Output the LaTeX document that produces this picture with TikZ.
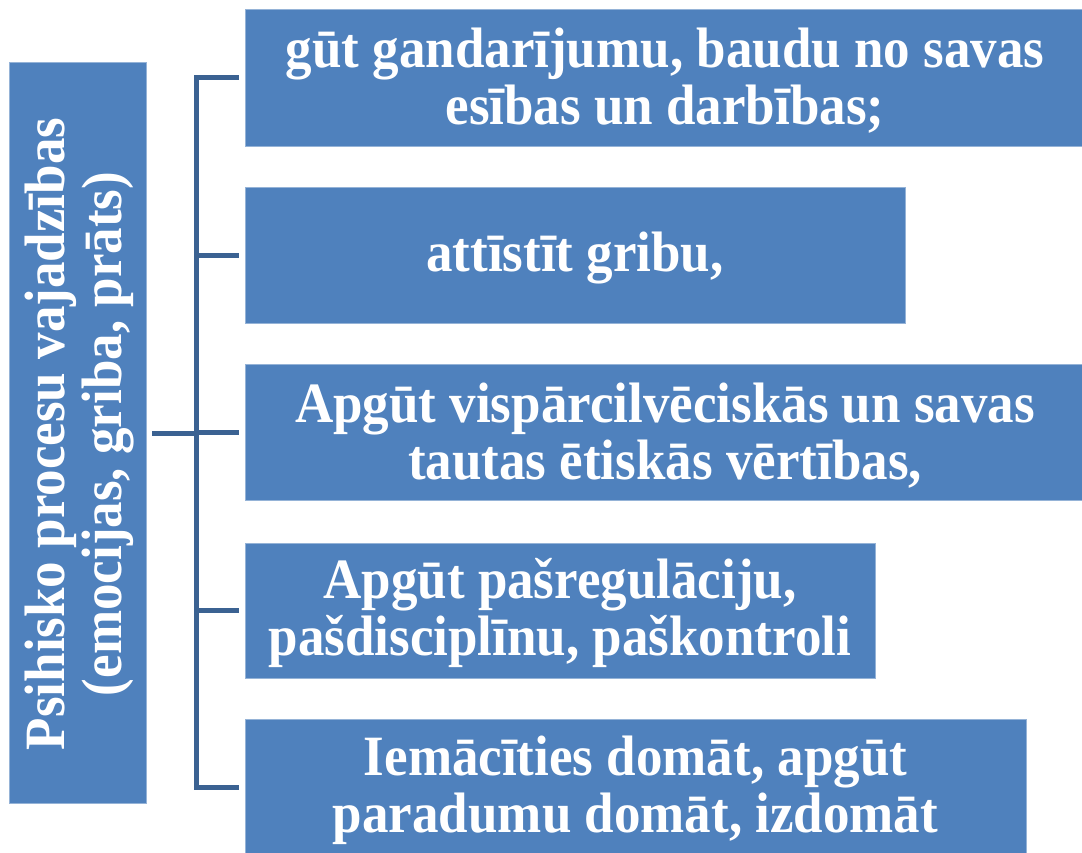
\documentclass[tikz,border=0pt]{standalone}
\usepackage{fontspec}
\setmainfont[FakeStretch=0.93]{Liberation Serif}
\definecolor{boxblue}{HTML}{4F81BD}
\definecolor{linkblue}{HTML}{3B6292}
\begin{document}
\begin{tikzpicture}[x=1pt,y=-1pt,
  box/.style={fill=boxblue, draw=boxblue!60!white, line width=0.8pt, inner sep=0pt},
  txt/.style={text=white, inner sep=0pt, font=\bfseries\fontsize{57}{57}\selectfont, align=center},
  link/.style={draw=linkblue, line width=5pt}]
\useasboundingbox (0,0) rectangle (1082,852);
\fill[white] (0,0) rectangle (1082,852);
% left box
\node[box, minimum width=137pt, minimum height=741pt] (L) at (77.5,432.5) {};
\node[txt, rotate=90] (Lt) at (80,434) {Psihisko procesu vajadzības\\(emocijas, griba, prāts)};
% right boxes
\node[box, minimum width=840pt, minimum height=137pt] (b1) at (665,77.5) {};
\node[box, minimum width=660pt, minimum height=136pt] (b2) at (575,255) {};
\node[box, minimum width=840pt, minimum height=136pt] (b3) at (665,432.5) {};
\node[box, minimum width=630pt, minimum height=135pt] (b4) at (560,610.5) {};
\node[box, minimum width=781pt, minimum height=136pt] (b5) at (635.5,787.5) {};
\node[txt] (t1) at ([yshift=-3pt]b1.center) {gūt gandarījumu, baudu no savas\\esības un darbības;};
\node[txt] (t2) at ([yshift=-3pt]b2.center) {attīstīt gribu,};
\node[txt] (t3) at ([yshift=-3pt]b3.center) {Apgūt vispārcilvēciskās un savas\\tautas ētiskās vērtības,};
\node[txt] (t4) at ([yshift=-2pt]b4.center) {Apgūt pašregulāciju,\\pašdisciplīnu, paškontroli};
\node[txt] (t5) at ([yshift=-3pt]b5.center) {Iemācīties domāt, apgūt\\paradumu domāt, izdomāt};
% connectors
\coordinate (j) at (196,433);
\draw[link] ([xshift=6pt]L.east |- j) -- (j);
\draw[link, line join=miter] ([xshift=-6pt]b1.west) -- (b1.west -| j) -- (b5.west -| j) -- ([xshift=-6pt]b5.west);
\draw[link] (b2.west -| j) -- ([xshift=-6pt]b2.west);
\draw[link] (b3.west -| j) -- ([xshift=-6pt]b3.west);
\draw[link] (b4.west -| j) -- ([xshift=-6pt]b4.west);
\end{tikzpicture}
\end{document}
